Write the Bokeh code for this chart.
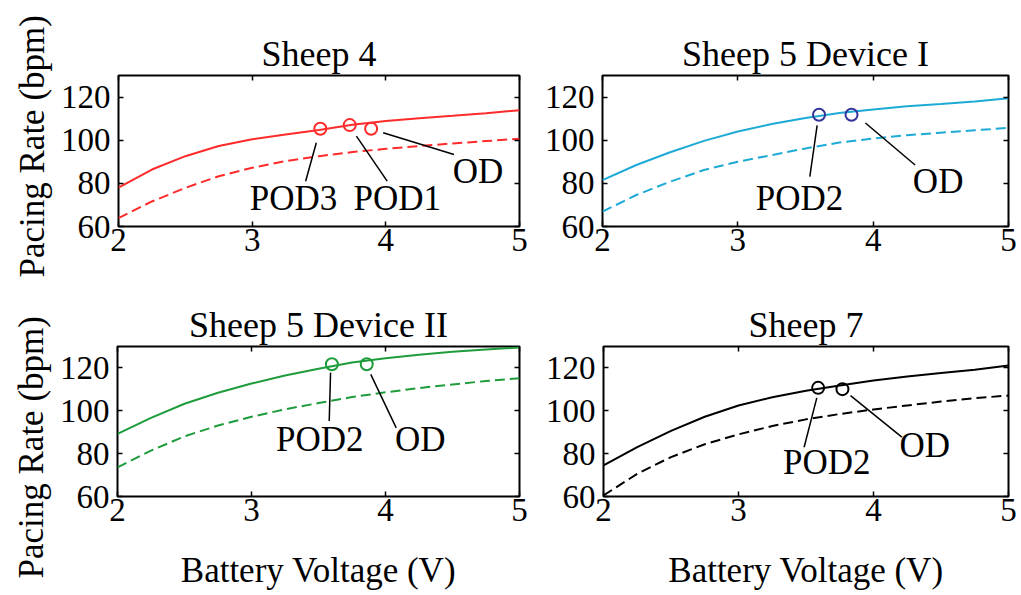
from bokeh.plotting import figure
from bokeh.layouts import column, row
from bokeh.models import Range1d, LinearAxis, FixedTicker, Title
from bokeh.core.properties import value
from bokeh.embed import file_html
from bokeh.resources import INLINE

FONT = "Liberation Serif"

# ---- data ----
volts = [2.0, 2.25, 2.5, 2.75, 3.0, 3.25, 3.5, 3.75, 4.0, 4.25, 4.5, 4.75, 5.0]

s4_solid = [78.0, 86.4, 92.6, 97.3, 100.4, 102.7, 104.7, 107.2, 108.9, 110.2, 111.3, 112.5, 113.9]
s4_dashed = [63.9, 71.6, 77.9, 83.3, 87.2, 90.3, 92.6, 94.5, 96.0, 97.3, 98.5, 99.6, 100.7]
s4_mark_x = [3.51, 3.73, 3.89]
s4_mark_y = [105.3, 107.0, 105.3]

s5a_solid = [81.5, 88.5, 94.4, 99.7, 104.0, 107.5, 110.3, 112.6, 114.2, 115.7, 116.8, 118.0, 119.5]
s5a_dashed = [66.9, 74.6, 80.8, 86.2, 90.0, 93.1, 96.2, 98.9, 100.8, 102.3, 103.5, 104.6, 105.7]
s5a_mark_x = [3.60, 3.84]
s5a_mark_y = [111.8, 111.8]

s5b_solid = [89.2, 96.7, 103.3, 108.4, 112.7, 116.5, 119.6, 122.5, 124.5, 126.1, 127.5, 128.6, 129.5]
s5b_dashed = [73.6, 81.4, 88.1, 93.1, 97.2, 100.7, 103.6, 106.4, 108.6, 110.6, 112.3, 113.9, 115.2]
s5b_mark_x = [3.60, 3.86]
s5b_mark_y = [121.7, 121.7]

s7_solid = [74.5, 83.0, 90.6, 97.2, 102.5, 106.3, 109.3, 111.8, 114.1, 116.0, 117.6, 119.2, 121.1]
s7_dashed = [60.5, 70.6, 78.4, 84.4, 89.0, 92.9, 96.0, 98.5, 100.6, 102.5, 104.3, 105.9, 107.1]
s7_mark_x = [3.59, 3.77]
s7_mark_y = [110.7, 110.1]

# annotation texts with leader lines (data coords: line start, line end, text centre)
s4_ann = [("POD3", 3.48, 98.8, 3.40, 81.0, 3.31, 73.2),
          ("POD1", 3.78, 101.9, 4.01, 81.0, 4.085, 73.2),
          ("OD", 3.98, 103.5, 4.51, 93.4, 4.69, 85.6)]
s5a_ann = [("POD2", 3.586, 106.9, 3.532, 83.1, 3.456, 73.1),
           ("OD", 3.943, 108.0, 4.31, 88.5, 4.48, 80.8)]
s5b_ann = [("POD2", 3.59, 117.8, 3.58, 95.2, 3.51, 86.6),
           ("OD", 3.89, 117.0, 4.08, 92.0, 4.26, 86.6)]
s7_ann = [("POD2", 3.58, 106.0, 3.486, 83.0, 3.654, 76.0),
          ("OD", 3.83, 107.1, 4.21, 87.7, 4.38, 83.8)]

x_ticks = [2, 3, 4, 5]
y_ticks = [60, 80, 100, 120]


def panel(title, solid, dashed, color, mx, my, mcolor, ann, width, height,
          left, right, top, bottom, xlabel, ylabel, ylabel_offset):
    p = figure(width=width, height=height, output_backend="svg", toolbar_location=None,
               x_range=Range1d(2, 5), y_range=Range1d(60, 130),
               min_border_left=left, min_border_right=right,
               min_border_top=top, min_border_bottom=bottom)
    p.background_fill_color = "white"
    p.border_fill_color = "white"
    p.outline_line_color = "black"
    p.outline_line_width = 2
    p.xgrid.visible = False
    p.ygrid.visible = False

    p.title.text = title
    p.title.align = "center"
    p.title.text_font = FONT
    p.title.text_font_size = "36px"
    p.title.text_font_style = "normal"
    p.title.text_color = "black"
    p.title.standoff = 4

    for ax in (p.xaxis[0], p.yaxis[0]):
        ax.major_tick_in = 5
        ax.major_tick_out = 0
        ax.minor_tick_line_color = None
        ax.axis_line_color = None
        ax.major_tick_line_width = 1.5
        ax.major_label_text_font = FONT
        ax.major_label_text_font_size = "33px"
        ax.major_label_text_color = "black"
        ax.axis_label_text_font = FONT
        ax.axis_label_text_font_size = "35px"
        ax.axis_label_text_font_style = "normal"
        ax.axis_label_text_color = "black"
    p.xaxis[0].ticker = FixedTicker(ticks=x_ticks)
    p.yaxis[0].ticker = FixedTicker(ticks=y_ticks)
    p.xaxis[0].major_label_standoff = 2
    p.yaxis[0].major_label_standoff = 8
    if xlabel:
        p.xaxis[0].axis_label = xlabel
        p.xaxis[0].axis_label_standoff = 27
    if ylabel:
        t = Title(text=ylabel, align="left", offset=ylabel_offset, text_font=FONT,
                  text_font_size="35px", text_font_style="normal", text_color="black",
                  standoff=12)
        p.add_layout(t, "left")

    for loc, tk in (("above", x_ticks), ("right", y_ticks)):
        ax = LinearAxis(ticker=FixedTicker(ticks=tk))
        ax.major_tick_in = 5
        ax.major_tick_out = 0
        ax.minor_tick_line_color = None
        ax.axis_line_color = None
        ax.major_tick_line_width = 1.5
        ax.major_label_overrides = {k: "" for k in tk}
        ax.major_label_text_font_size = "1px"
        ax.major_label_standoff = 0
        p.add_layout(ax, loc)

    p.line(volts, solid, line_color=color, line_width=2)
    p.line(volts, dashed, line_color=color, line_width=2, line_dash="10 5")

    for (txt, x0, y0, x1, y1, tx, ty) in ann:
        p.segment(x0=[x0], y0=[y0], x1=[x1], y1=[y1], line_color="black", line_width=1.5)
        p.text(x=[tx], y=[ty], text=[txt], text_font=value(FONT), text_font_size="35px",
               text_align="center", text_baseline="middle", text_color="black")

    p.scatter(mx, my, marker="circle", size=12, fill_color=None, line_color=mcolor,
              line_width=2)
    return p


p1 = panel("Sheep 4", s4_solid, s4_dashed, "#FF2B2B", s4_mark_x, s4_mark_y, "#FF2B2B",
           s4_ann, 530, 295, 118, 11, 75, 69, "", "Pacing Rate (bpm)", -51)
p2 = panel("Sheep 5 Device I", s5a_solid, s5a_dashed, "#1EAAD6", s5a_mark_x, s5a_mark_y,
           "#33339A", s5a_ann, 491, 295, 72, 13, 75, 69, "", "", 0)
p3 = panel("Sheep 5 Device II", s5b_solid, s5b_dashed, "#1E9C3C", s5b_mark_x, s5b_mark_y,
           "#1E9C3C", s5b_ann, 530, 300, 117, 11, 51, 99, "Battery Voltage (V)",
           "Pacing Rate (bpm)", -82)
p4 = panel("Sheep 7", s7_solid, s7_dashed, "black", s7_mark_x, s7_mark_y, "black",
           s7_ann, 491, 300, 73, 13, 51, 99, "Battery Voltage (V)", "", 0)

layout = column(row(p1, p2), row(p3, p4))
open("out.html", "w").write(file_html(layout, INLINE))
